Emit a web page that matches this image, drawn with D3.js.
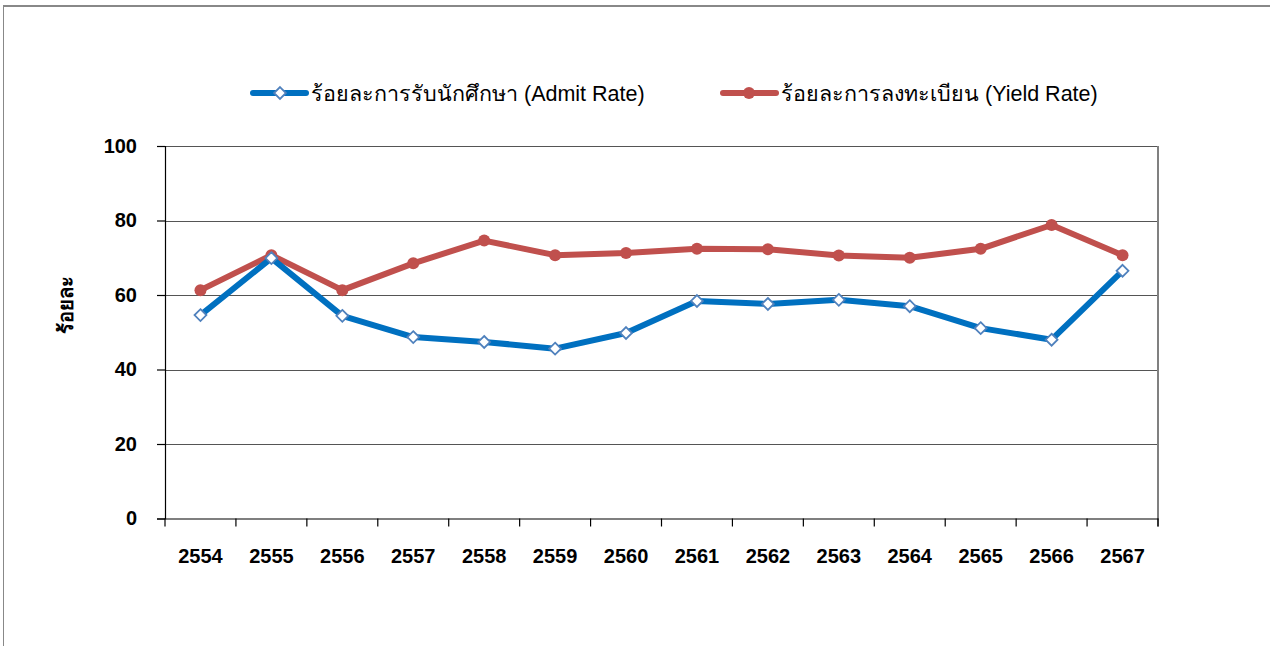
<!DOCTYPE html>
<html>
<head>
<meta charset="utf-8">
<script src="https://cdn.jsdelivr.net/npm/d3@7"></script>
<style>
  html, body { margin: 0; padding: 0; background: #fff; }
  svg { display: block; }
  text { font-family: "Liberation Sans", Arial, sans-serif; }
</style>
</head>
<body>
<svg id="chart" width="1270" height="646"></svg>
<script>
const years = ["2554","2555","2556","2557","2558","2559","2560","2561","2562","2563","2564","2565","2566","2567"];
const admitRate = [54.6, 69.9, 54.4, 48.7, 47.4, 45.6, 49.8, 58.4, 57.6, 58.7, 57.0, 51.1, 48.0, 66.5];
const yieldRate = [61.3, 70.7, 61.3, 68.5, 74.6, 70.7, 71.3, 72.4, 72.3, 70.6, 70.0, 72.4, 78.8, 70.7];
const yTicks = [0, 20, 40, 60, 80, 100];
const seriesNames = ["ร้อยละการรับนักศึกษา (Admit Rate)", "ร้อยละการลงทะเบียน (Yield Rate)"];
const yTitle = "ร้อยละ";

const svg = d3.select("#chart");
const pL = 165, pR = 1158, pT = 146, pB = 518.5;

const x = d3.scaleBand().domain(years).range([pL, pR]).padding(0);
const y = d3.scaleLinear().domain([0, 100]).range([pB, pT]);

// outer frame
svg.append("line").attr("x1", 3).attr("x2", 1270).attr("y1", 6).attr("y2", 6)
  .attr("stroke", "#888").attr("stroke-width", 2);
svg.append("line").attr("x1", 3.5).attr("x2", 3.5).attr("y1", 6).attr("y2", 646)
  .attr("stroke", "#888").attr("stroke-width", 1);

// gridlines
svg.append("g").selectAll("line").data(yTicks.filter(d => d > 0)).join("line")
  .attr("x1", pL).attr("x2", pR)
  .attr("y1", d => Math.round(y(d)) + 0.5).attr("y2", d => Math.round(y(d)) + 0.5)
  .attr("stroke", "#555").attr("stroke-width", 1.2);

// right border
svg.append("line").attr("x1", pR).attr("x2", pR).attr("y1", pT).attr("y2", pB + 8)
  .attr("stroke", "#808080").attr("stroke-width", 2);

// y axis
const yAxis = d3.axisLeft(y).tickValues(yTicks).tickSize(8).tickPadding(20);
const gy = svg.append("g").attr("transform", `translate(${pL},0)`).call(yAxis);
gy.select(".domain").attr("stroke", "#000").attr("stroke-width", 1.2);
gy.selectAll(".tick line").attr("stroke", "#000").attr("stroke-width", 1.2);
gy.selectAll(".tick text").attr("font-size", 20).attr("font-weight", "bold")
  .attr("fill", "#000").attr("font-family", "Liberation Sans, Arial, sans-serif");

// x axis
const xAxis = d3.axisBottom(x).tickSize(0).tickPadding(30);
const gx = svg.append("g").attr("transform", `translate(0,${pB})`).call(xAxis);
gx.select(".domain").attr("stroke", "#000").attr("stroke-width", 1.2);
gx.selectAll(".tick text").attr("font-size", 20).attr("font-weight", "bold")
  .attr("fill", "#000").attr("font-family", "Liberation Sans, Arial, sans-serif");
// category boundary ticks
const bounds = years.map(d => x(d)).concat([x(years[years.length - 1]) + x.bandwidth()]);
svg.append("g").selectAll("line").data(bounds).join("line")
  .attr("x1", d => d).attr("x2", d => d).attr("y1", pB).attr("y2", pB + 8)
  .attr("stroke", "#000").attr("stroke-width", 1.2);

// y title
svg.append("text").attr("transform", "translate(73,305) rotate(-90)")
  .attr("text-anchor", "middle").attr("font-size", 20).attr("font-weight", "bold")
  .attr("fill", "#000").text(yTitle);

const cx = d => x(d) + x.bandwidth() / 2;
const line = d3.line().x(d => cx(d.year)).y(d => y(d.v));

const redData = years.map((yr, i) => ({ year: yr, v: yieldRate[i] }));
const blueData = years.map((yr, i) => ({ year: yr, v: admitRate[i] }));

const red = "#C0504D", blue = "#0070C0", diamondStroke = "#4F81BD";

svg.append("path").datum(redData).attr("d", line)
  .attr("fill", "none").attr("stroke", red).attr("stroke-width", 6)
  .attr("stroke-linejoin", "round");
svg.append("g").selectAll("circle").data(redData).join("circle")
  .attr("cx", d => cx(d.year)).attr("cy", d => y(d.v)).attr("r", 6).attr("fill", red);

svg.append("path").datum(blueData).attr("d", line)
  .attr("fill", "none").attr("stroke", blue).attr("stroke-width", 6)
  .attr("stroke-linejoin", "round");
const diamond = d3.symbol().type(d3.symbolDiamond2 || d3.symbolDiamond).size(90);
svg.append("g").selectAll("path").data(blueData).join("path")
  .attr("transform", d => `translate(${cx(d.year)},${y(d.v)})`)
  .attr("d", diamond).attr("fill", "#fff").attr("stroke", diamondStroke).attr("stroke-width", 1.8);

// legend
const legY = 93;
const lg = svg.append("g");
lg.append("line").attr("x1", 253).attr("x2", 306).attr("y1", legY).attr("y2", legY)
  .attr("stroke", blue).attr("stroke-width", 6).attr("stroke-linecap", "round");
lg.append("path").attr("transform", `translate(280,${legY})`).attr("d", diamond)
  .attr("fill", "#fff").attr("stroke", diamondStroke).attr("stroke-width", 1.8);
lg.append("text").attr("x", 311).attr("y", legY).attr("dy", "0.35em")
  .attr("font-size", 21.5).attr("fill", "#000").text(seriesNames[0]);

lg.append("line").attr("x1", 723).attr("x2", 776).attr("y1", legY).attr("y2", legY)
  .attr("stroke", red).attr("stroke-width", 6).attr("stroke-linecap", "round");
lg.append("circle").attr("cx", 749).attr("cy", legY).attr("r", 6).attr("fill", red);
lg.append("text").attr("x", 781).attr("y", legY).attr("dy", "0.35em")
  .attr("font-size", 21.5).attr("fill", "#000").text(seriesNames[1]);
</script>
</body>
</html>
